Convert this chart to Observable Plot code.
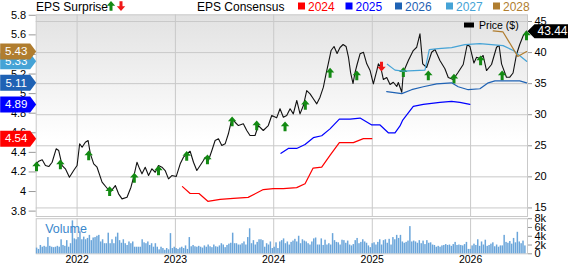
<!DOCTYPE html>
<html><head><meta charset="utf-8">
<script src="https://cdn.jsdelivr.net/npm/d3@7"></script>
<script src="https://cdn.jsdelivr.net/npm/@observablehq/plot@0.6"></script>
<style>
body{margin:0;background:#fff;}
#chart{position:relative;width:568px;height:264px;overflow:hidden;font-family:"Liberation Sans",Arial,sans-serif;background:#fff;}
#chart svg{position:absolute;left:0;top:0;}
</style></head><body><div id="chart"></div>
<script>
// ---------- DATA ----------
const priceT = [
2021.584,2021.610,2021.645,2021.678,2021.712,2021.746,2021.787,2021.813,2021.848,2021.881,
2021.922,2021.965,2022.000,2022.026,2022.051,2022.084,2022.112,2022.135,2022.169,2022.203,
2022.254,2022.297,2022.338,2022.389,2022.422,2022.457,2022.508,2022.548,2022.575,2022.609,
2022.636,2022.660,2022.693,2022.727,2022.761,2022.795,2022.828,2022.863,2022.896,2022.930,
2022.964,2023.008,2023.049,2023.082,2023.117,2023.150,2023.184,2023.218,2023.252,2023.285,
2023.303,2023.336,2023.371,2023.404,2023.438,2023.472,2023.506,2023.539,2023.574,2023.607,
2023.641,2023.691,2023.726,2023.759,2023.810,2023.844,2023.894,2023.945,2023.980,2024.030,
2024.064,2024.098,2024.132,2024.166,2024.199,2024.234,2024.267,2024.301,2024.335,2024.369,
2024.402,2024.437,2024.470,2024.504,2024.531,2024.556,2024.582,2024.612,2024.643,2024.673,
2024.704,2024.734,2024.759,2024.780,2024.805,2024.825,2024.846,2024.876,2024.910,2024.944,
2024.978,2025.011,2025.046,2025.062,2025.086,2025.113,2025.147,2025.181,2025.214,2025.249,
2025.265,2025.300,2025.316,2025.367,2025.417,2025.452,2025.485,2025.513,2025.553,2025.604,
2025.638,2025.688,2025.739,2025.773,2025.823,2025.874,2025.925,2025.966,2025.993,2026.034,
2026.061,2026.094,2026.128,2026.162,2026.213,2026.264,2026.290,2026.315,2026.365,2026.399,
2026.432,2026.467,2026.500,2026.534,2026.568];
const priceV = [
22.10,22.52,22.74,21.82,21.66,22.35,24.51,24.24,21.82,21.29,
19.94,21.02,21.82,25.32,24.77,25.57,25.85,23.71,22.10,21.55,
19.14,18.33,17.53,18.60,17.27,16.46,16.72,18.33,19.94,22.35,
21.29,20.49,21.55,20.21,21.29,20.74,21.82,21.55,21.02,19.68,
20.21,20.05,22.10,23.16,23.71,24.12,22.35,21.02,21.82,22.63,
23.16,22.63,24.24,25.85,26.12,25.04,25.32,26.93,29.34,28.79,
28.26,28.53,27.46,26.65,26.65,28.26,27.46,28.26,29.87,29.50,
30.95,29.60,29.87,30.95,30.14,32.29,30.14,31.48,33.89,33.36,
32.56,31.75,32.82,34.43,36.58,38.40,40.33,40.98,39.85,40.82,
41.30,40.98,39.21,36.79,35.02,36.79,38.08,39.80,40.06,38.19,
37.11,34.97,37.11,38.19,37.64,35.66,35.99,34.86,35.23,34.54,
35.18,33.62,36.84,38.72,40.33,40.86,43.02,38.19,37.60,40.06,
40.49,38.72,37.39,35.99,35.66,36.84,38.08,41.30,40.98,38.32,
39.25,39.04,39.53,37.11,38.08,40.86,41.14,38.19,36.04,36.04,
36.71,39.69,41.30,42.67,43.44];
const lastPrice = 43.44;

// EPS surprise markers (earnings dates)
const beatT = [2021.587,2021.830,2022.118,2022.331,2022.582,2022.828,2023.115,2023.326,2023.577,2023.827,
               2024.115,2024.321,2024.572,2024.843,2025.094,2025.316,2025.570,2025.831,2026.102,2026.321,2026.569];
const beatP = [21.66,21.98,23.43,17.69,19.84,21.02,23.35,22.79,28.90,28.26,
               28.10,31.59,36.74,36.31,37.76,36.84,36.31,35.78,38.72,36.31,42.75];
const beatKind = ["up","up","up","up","up","up","up","up","up","up",
                  "up","up","up","up","down","up","up","up","up","up","up"];

// EPS consensus by fiscal year
const eps2024T = [2023.072,2023.150,2023.240,2023.330,2023.455,2023.590,2023.740,2023.894,2023.996,2024.097,2024.233,2024.318,2024.400,2024.487,2024.571,2024.666,2024.808,2024.910,2024.995];
const eps2024V = [4.05,3.98,3.98,3.90,3.92,3.93,3.94,4.02,4.03,4.03,4.04,4.08,4.24,4.25,4.37,4.50,4.50,4.54,4.54];
const eps2025T = [2024.074,2024.148,2024.233,2024.318,2024.402,2024.487,2024.571,2024.666,2024.775,2024.876,2024.995,2025.079,2025.163,2025.231,2025.282,2025.310,2025.417,2025.519,2025.688,2025.807,2025.891,2025.993];
const eps2025V = [4.39,4.44,4.44,4.48,4.55,4.57,4.64,4.74,4.74,4.75,4.68,4.68,4.60,4.60,4.67,4.73,4.87,4.89,4.91,4.92,4.91,4.89];
const eps2026T = [2025.147,2025.300,2025.400,2025.519,2025.655,2025.807,2025.874,2025.976,2026.095,2026.180,2026.248,2026.365,2026.500,2026.570];
const eps2026V = [5.02,5.00,5.04,5.07,5.10,5.11,5.07,5.04,5.05,5.11,5.13,5.13,5.13,5.11];
const eps2027T = [2025.153,2025.231,2025.316,2025.536,2025.580,2025.671,2025.807,2025.942,2026.094,2026.331,2026.435,2026.570];
const eps2027V = [5.30,5.24,5.23,5.24,5.45,5.46,5.47,5.50,5.51,5.49,5.44,5.33];
const eps2028T = [2026.230,2026.330,2026.480,2026.570];
const eps2028V = [5.64,5.63,5.38,5.43];

const consensusYears = ["2024","2025","2026","2027","2028"];
const consensusLatest = [4.54,4.89,5.11,5.33,5.43];
const consensusColors = ["#ff0000","#0000ff","#1f62b4","#45a3d6","#b07d2f"];

// weekly volume (thousands), starting week
const volumeStart = "2021-08-02";
const volumeK = [
1.3,1.0,1.9,1.5,1.7,1.5,3.7,1.7,1.5,1.4,1.5,1.7,1.5,3.2,1.9,1.7,3.0,1.5,2.3,7.5,3.4,3.2,
3.7,5.0,3.2,3.8,3.2,3.5,4.2,3.0,3.6,3.7,4.0,4.2,2.7,3.2,2.3,2.3,4.7,2.3,3.2,2.3,3.8,4.7,3.0,2.4,3.2,2.3,1.9,2.7,2.3,2.7,1.5,1.5,1.5,1.5,3.2,2.5,2.3,2.7,1.9,2.3,1.5,2.3,1.5,0.9,1.5,1.2,0.8,1.2,0.9,4.6,1.2,1.5,
1.2,1.0,1.3,1.5,1.2,1.8,1.0,3.7,1.6,1.9,1.6,1.5,1.7,1.5,1.3,1.8,1.5,2.0,1.6,1.4,2.0,1.6,1.5,1.8,2.3,2.0,1.4,1.9,2.2,2.4,4.7,2.3,2.3,2.0,2.0,2.3,2.7,2.0,3.7,5.7,2.3,3.0,2.0,2.6,3.2,3.2,3.0,1.5,2.3,2.0,2.7,1.2,
1.5,2.5,1.2,2.7,3.0,3.4,2.3,2.7,2.0,2.6,2.9,3.3,2.7,4.0,2.3,3.2,2.9,2.7,2.3,2.0,2.7,3.4,3.6,2.0,2.0,3.4,1.9,3.1,2.0,2.3,2.0,4.6,3.0,2.6,2.5,2.0,3.1,3.0,2.4,2.9,2.0,1.8,2.1,3.0,3.5,2.3,2.6,3.2,2.7,2.4,1.8,1.4,
2.3,2.5,2.0,2.6,3.2,2.0,3.0,3.2,2.4,3.3,2.0,3.7,3.2,4.2,3.5,4.2,2.7,2.4,2.6,2.9,6.2,2.7,2.9,2.7,2.4,3.0,2.3,2.9,2.1,3.0,2.4,2.5,2.0,1.9,1.5,1.7,1.5,1.8,1.9,2.1,1.9,2.0,1.7,2.1,2.6,1.9,2.0,1.9,1.8,2.1,2.6,1.0,
1.0,1.8,2.2,1.9,3.2,1.7,2.7,2.0,3.1,1.7,1.9,2.2,2.5,1.6,2.0,1.5,1.8,1.8,4.2,2.6,2.4,2.8,2.2,3.5,2.5,4.9,2.7,2.3,2.9,1.8];

const epsTicks = [3.8,4,4.2,4.4,4.6,4.8,5,5.2,5.4,5.6,5.8];
const priceTicks = [15,20,25,30,35,40,45];
const volTicks = [0,2,4,6,8];
const yearTicks = [2022,2023,2024,2025,2026];

// ---------- HELPERS ----------
const yr = t => { const y = Math.floor(t), a = Date.UTC(y,0,1), b = Date.UTC(y+1,0,1); return new Date(a + (t - y) * (b - a)); };
const W = 568, H = 264, ML = 35.7, MR = 41, MT = 14.3, MB = 48;
const xDomain = [yr(2021.584), yr(2026.579)];
const font = '"Liberation Sans", Arial, Helvetica, sans-serif';
const baseStyle = {background:"none", overflow:"visible", fontFamily:font, fontSize:"11px", color:"#000"};
const gridColor = "#c9c9c9";
const yearDates = yearTicks.map(y => yr(y));

const upArrow = {draw(c){ c.moveTo(0,-5); c.lineTo(4.2,-0.3); c.lineTo(1.5,-0.3); c.lineTo(1.5,4.8); c.lineTo(-1.5,4.8); c.lineTo(-1.5,-0.3); c.lineTo(-4.2,-0.3); c.closePath(); }};
const downArrow = {draw(c){ c.moveTo(0,5); c.lineTo(4.2,0.3); c.lineTo(1.5,0.3); c.lineTo(1.5,-4.8); c.lineTo(-1.5,-4.8); c.lineTo(-1.5,0.3); c.lineTo(-4.2,0.3); c.closePath(); }};
const rightTag = {draw(c){ c.moveTo(0,0); c.lineTo(-6,-8); c.lineTo(-36,-8); c.lineTo(-36,8); c.lineTo(-6,8); c.closePath(); }};
const leftTag = {draw(c){ c.moveTo(0,0); c.lineTo(7,-7); c.lineTo(42,-7); c.lineTo(42,7); c.lineTo(7,7); c.closePath(); }};

const price = priceT.map((t,i) => ({date: yr(t), price: priceV[i]}));
const beats = beatT.map((t,i) => ({date: yr(t), price: beatP[i], kind: beatKind[i]}));
const epsSeries = [[eps2024T,eps2024V],[eps2025T,eps2025V],[eps2026T,eps2026V],[eps2027T,eps2027V],[eps2028T,eps2028V]]
  .map(([T,V]) => T.map((t,i) => ({date: yr(t), eps: V[i]})));
const volStart = new Date(volumeStart);
const volData = volumeK.map((v,i) => ({d0: d3.utcWeek.offset(volStart,i), d1: d3.utcWeek.offset(volStart,i+1), v}));

const chart = document.getElementById("chart");

// ---------- PRICE PANEL ----------
const pricePlot = Plot.plot({
  width: W, height: H, marginLeft: ML, marginRight: MR, marginTop: MT, marginBottom: MB,
  style: baseStyle,
  x: {type: "utc", domain: xDomain, axis: null, label: null},
  y: {domain: [13.62, 46.08], label: null},
  marks: [
    Plot.frame({fill: "url(#bgGrad)"}),
    Plot.gridY(priceTicks, {stroke: gridColor, strokeOpacity: 1}),
    Plot.gridX(yearDates, {stroke: gridColor, strokeOpacity: 1}),
    Plot.frame({stroke: gridColor}),
    Plot.axisY(priceTicks, {anchor: "right", label: null, tickSize: 4, tickPadding: 3, stroke: "#999", fontSize: 11}),
    Plot.line(price, {x: "date", y: "price", stroke: "#111", strokeWidth: 1.1}),
    Plot.dot(beats.filter(d => d.kind === "up"), {x: "date", y: "price", symbol: upArrow, r: 4, fill: "#138a13", stroke: "none"}),
    Plot.dot(beats.filter(d => d.kind === "down"), {x: "date", y: "price", symbol: downArrow, r: 4, fill: "#f01818", stroke: "none"}),
    Plot.dot([lastPrice], {x: () => xDomain[1], y: d => d, symbol: leftTag, r: 5, fill: "#000", stroke: "none"}),
    Plot.text([lastPrice], {x: () => xDomain[1], y: d => d, text: d => d.toFixed(2), dx: 25, fill: "#fff", fontSize: 12})
  ]
});
d3.select(pricePlot).insert("defs", ":first-child").html(
  '<linearGradient id="bgGrad" x1="0" y1="0" x2="0" y2="1"><stop offset="0" stop-color="#e2e2e2"/><stop offset="0.62" stop-color="#ffffff"/><stop offset="1" stop-color="#ffffff"/></linearGradient>');
chart.appendChild(pricePlot);

// ---------- EPS OVERLAY ----------
const epsMarks = [
  Plot.axisY(epsTicks, {anchor: "left", label: null, tickSize: 7, tickPadding: 3, stroke: "#999", fontSize: 11, tickFormat: d => d3.format("~g")(d)})
];
epsSeries.forEach((s,i) => epsMarks.push(Plot.line(s, {x: "date", y: "eps", stroke: consensusColors[i], strokeWidth: 1.2})));
consensusLatest.forEach((v,i) => {
  epsMarks.push(Plot.dot([v], {x: () => xDomain[0], y: d => d, symbol: rightTag, r: 5, fill: consensusColors[i], stroke: "none"}));
  epsMarks.push(Plot.text([v], {x: () => xDomain[0], y: d => d, text: d => d.toFixed(2), dx: -20, fill: "#fff", fontSize: 11.5}));
});
const epsPlot = Plot.plot({
  width: W, height: H, marginLeft: ML, marginRight: MR, marginTop: MT, marginBottom: MB,
  style: baseStyle,
  x: {type: "utc", domain: xDomain, axis: null, label: null},
  y: {domain: [3.745, 5.805], label: null},
  marks: epsMarks
});
chart.appendChild(epsPlot);

// ---------- VOLUME PANEL ----------
const volPlot = Plot.plot({
  width: W, height: H, marginLeft: ML, marginRight: MR, marginTop: 218.2, marginBottom: 10.7,
  style: baseStyle,
  x: {type: "utc", domain: xDomain, label: null},
  y: {domain: [0, 8], label: null},
  marks: [
    Plot.gridX(yearDates, {stroke: gridColor, strokeOpacity: 1}),
    Plot.frame({stroke: gridColor}),
    Plot.rectY(volData, {x1: "d0", x2: "d1", y: "v", fill: "#6aa5da", insetLeft: 0.2, insetRight: 0.2}),
    Plot.text(["Volume"], {text: d => d, frameAnchor: "top-left", dx: 9, dy: 5, lineAnchor: "top", textAnchor: "start", fill: "#3a87cc", fontSize: 12.5}),
    Plot.axisY(volTicks, {anchor: "right", label: null, tickSize: 4, tickPadding: 3, stroke: "#999", fontSize: 11, tickFormat: d => d ? d + "k" : "0"}),
    Plot.axisX(yearDates, {anchor: "bottom", label: null, tickSize: 0, tickPadding: 2, fontSize: 10.5, tickFormat: d3.utcFormat("%Y")})
  ]
});
chart.appendChild(volPlot);

// ---------- LEGENDS ----------
const leg = d3.create("svg").attr("width", W).attr("height", H)
  .style("font-family", font).style("overflow", "visible");
leg.append("text").attr("x", 36).attr("y", 11).attr("font-size", 12).text("EPS Surprise");
const pu = d3.path(); upArrow.draw(pu);
const pd = d3.path(); downArrow.draw(pd);
leg.append("path").attr("d", pu.toString()).attr("transform", "translate(111,6)").attr("fill", "#138a13");
leg.append("path").attr("d", pd.toString()).attr("transform", "translate(121,6)").attr("fill", "#f01818");
leg.append("text").attr("x", 197).attr("y", 11).attr("font-size", 12).text("EPS Consensus");
const sqX = [298, 345.5, 395, 446, 493];
consensusYears.forEach((y,i) => {
  leg.append("rect").attr("x", sqX[i]).attr("y", 2.5).attr("width", 7).attr("height", 7).attr("fill", consensusColors[i]);
  leg.append("text").attr("x", sqX[i] + 10).attr("y", 11).attr("font-size", 12).attr("fill", consensusColors[i]).text(y);
});
leg.append("rect").attr("x", 464).attr("y", 22.5).attr("width", 10).attr("height", 5).attr("fill", "#000");
leg.append("text").attr("x", 479).attr("y", 29).attr("font-size", 10.5).text("Price ($)");
chart.appendChild(leg.node());
</script></body></html>
